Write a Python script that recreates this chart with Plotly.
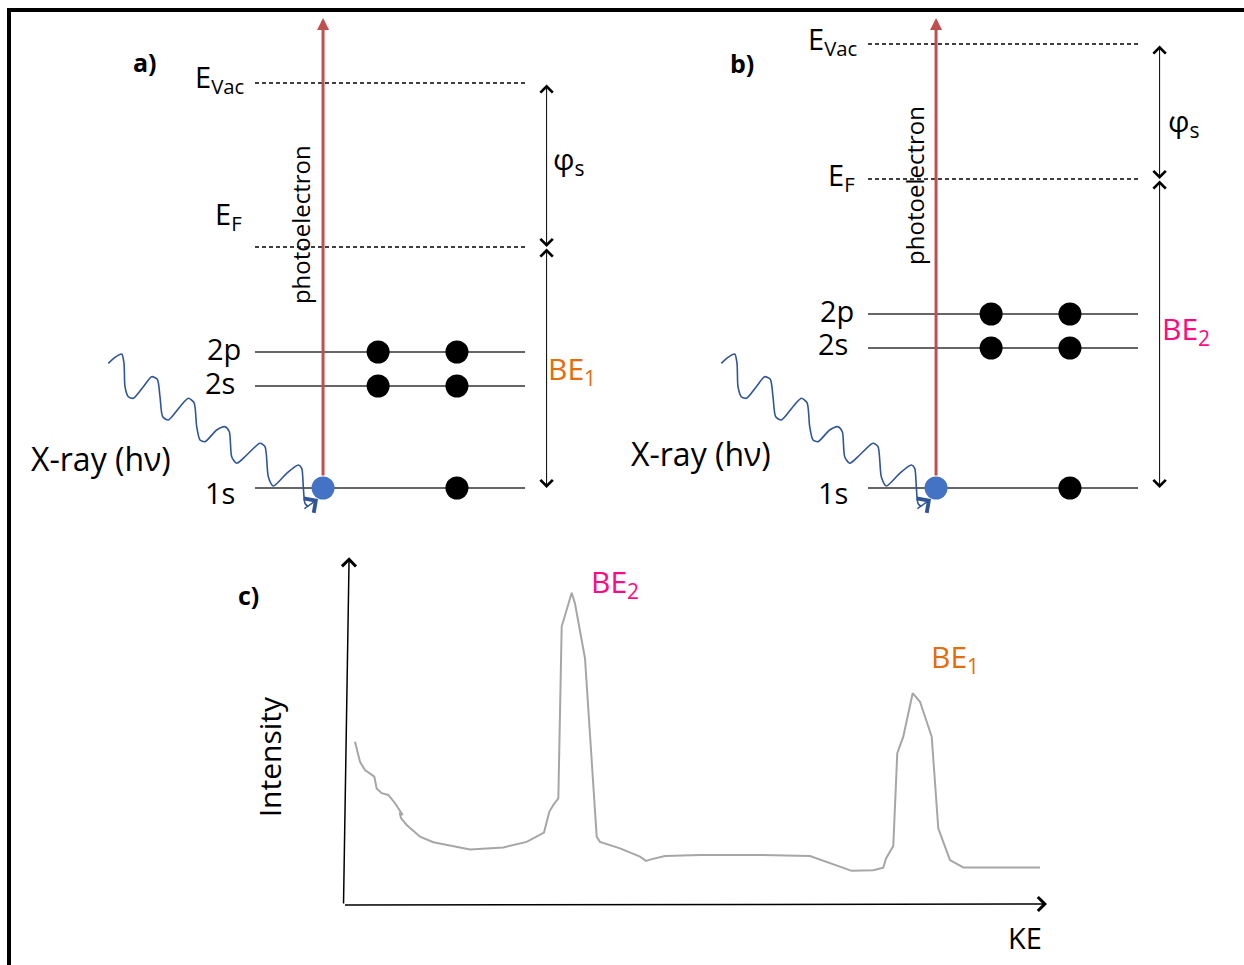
import plotly.graph_objects as go

# ---------------- data ----------------
# Panels a) and b): energy levels (arbitrary energy units, 1s = 0)
LEVEL_NAMES = ["1s", "2s", "2p"]
LEVEL_E_A = [0.0, 10.2, 13.6]
LEVEL_E_B = [0.0, 14.0, 17.4]
FERMI_A, VAC_A = 24.1, 40.5
FERMI_B, VAC_B = 30.9, 44.4
ELECTRON_SLOTS = [0.456, 0.748]          # occupied slots along a level
ELECTRONS_PER_LEVEL = [1, 2, 2]           # black electrons left (1s lost one)
EJECTED_SLOT = 0.252
PHOTO_TOP = 47.0

# X-ray squiggle (traced), in panel units
WAVE_X = [-0.5433, -0.5185, -0.4937, -0.4852, -0.4815, -0.4693, -0.4507, -0.4137,
          -0.3826, -0.3619, -0.3519, -0.3419, -0.3211, -0.2778, -0.2470, -0.2259,
          -0.2159, -0.2037, -0.1852, -0.1419, -0.1111, -0.0952, -0.0863, -0.0678,
          -0.0307, 0.0185, 0.0370, 0.0493, 0.0678, 0.1174, 0.1604, 0.1730,
          0.1789, 0.1852, 0.1974]
WAVE_Y = [12.47, 13.07, 13.40, 12.47, 10.13, 9.13, 8.97, 10.13,
          11.13, 10.87, 9.13, 7.13, 6.80, 8.13, 8.97, 8.53,
          6.13, 4.80, 4.63, 5.80, 6.13, 5.63, 3.13, 2.47,
          3.30, 4.47, 4.13, 1.13, 0.20, 1.47, 2.30, 1.97,
          0.13, -1.53, -1.87]
WAVE_TIP = (0.2335, -1.1)

# Panel c): spectrum
KE = [1.64, 2.36, 3.07, 4.40, 4.74, 5.46, 6.40, 7.36, 8.46, 8.03, 8.21, 9.03,
      10.93, 12.83, 18.07, 22.83, 26.17, 28.64, 29.40, 29.97, 30.69, 31.17,
      32.60, 33.07, 34.50, 36.17, 36.64, 39.50, 42.36, 43.21, 44.03, 45.93,
      50.93, 59.50, 66.64, 70.93, 72.60, 75.69, 77.11, 77.50, 78.54, 79.11,
      79.97, 81.31, 82.36, 84.03, 84.97, 85.93, 86.64, 88.54, 99.5]
INTENSITY = [47.3, 41.5, 39.1, 37.2, 33.8, 32.4, 31.9, 29.5, 26.1, 26.8, 25.2, 23.2,
             19.8, 18.2, 16.1, 16.7, 18.3, 21.0, 27.0, 29.0, 30.9, 80.7,
             90.5, 87.4, 71.5, 19.8, 18.3, 16.4, 14.0, 12.8, 13.3, 14.2,
             14.5, 14.5, 14.2, 11.1, 9.9, 10.1, 10.8, 13.5, 17.1, 44.0,
             48.8, 61.4, 58.9, 48.8, 22.2, 16.9, 13.0, 10.9, 10.9]
PEAK_LABELS = ["BE<sub>2</sub>", "BE<sub>1</sub>"]
PEAK_LABEL_POS = [(35.0, 93.3), (83.7, 71.6)]

# ---------------- styles ----------------
FONT = "Open Sans"
RED = "#C0504D"
BLUE_DOT = "#4472C4"
WAVE_BLUE = "#2F5597"
ORANGE = "#E46C0A"
PINK = "#FF0A80"
GRAY = "#A6A6A6"
LINE = "#333333"

fig = go.Figure()
ann = []


def panel(xa, levels, ef, evac, be_text, be_color, lab_pos):
    # level lines
    lx, ly = [], []
    for e in levels:
        lx += [0, 1, None]
        ly += [e, e, None]
    fig.add_trace(go.Scatter(x=lx, y=ly, mode="lines", xaxis=xa, yaxis="y",
                             line=dict(color=LINE, width=1.5), hoverinfo="skip"))
    # dashed EF / Evac
    fig.add_trace(go.Scatter(x=[0, 1, None, 0, 1], y=[ef, ef, None, evac, evac],
                             mode="lines", xaxis=xa, yaxis="y",
                             line=dict(color="black", width=1.4, dash="4px,3px"),
                             hoverinfo="skip"))
    # wave
    fig.add_trace(go.Scatter(x=WAVE_X, y=WAVE_Y, mode="lines", xaxis=xa, yaxis="y",
                             line=dict(color=WAVE_BLUE, width=1.6, shape="spline",
                                       smoothing=0.7), hoverinfo="skip"))
    # electrons
    ex, ey = [], []
    for e, n in zip(levels, ELECTRONS_PER_LEVEL):
        for s in ELECTRON_SLOTS[-n:]:
            ex.append(s)
            ey.append(e)
    fig.add_trace(go.Scatter(x=ex, y=ey, mode="markers", xaxis=xa, yaxis="y",
                             marker=dict(color="black", size=23), hoverinfo="skip"))
    fig.add_trace(go.Scatter(x=[EJECTED_SLOT], y=[levels[0]], mode="markers",
                             xaxis=xa, yaxis="y",
                             marker=dict(color=BLUE_DOT, size=23), hoverinfo="skip"))
    # arrows
    ann.append(dict(xref=xa, yref="y", axref=xa, ayref="y", x=EJECTED_SLOT, y=PHOTO_TOP,
                    ax=EJECTED_SLOT, ay=levels[0] + 1.1, text="", showarrow=True,
                    arrowhead=2, arrowsize=0.8, arrowwidth=3, arrowcolor=RED, standoff=0))
    ann.append(dict(xref=xa, yref="y", axref=xa, ayref="y", x=WAVE_TIP[0], y=WAVE_TIP[1],
                    ax=WAVE_X[-1] - 0.02, ay=WAVE_Y[-1] - 0.3, text="", showarrow=True,
                    arrowhead=4, arrowsize=2.6, arrowwidth=1.3, arrowcolor=WAVE_BLUE,
                    standoff=0))
    for top, bot in [(evac, ef), (ef, levels[0])]:
        ann.append(dict(xref=xa, yref="y", axref=xa, ayref="y", x=1.08, y=bot,
                        ax=1.08, ay=top, text="", showarrow=True, arrowside="end+start",
                        arrowhead=4, startarrowhead=4, arrowsize=2.4, startarrowsize=2.4,
                        arrowwidth=1, arrowcolor="black", standoff=0, startstandoff=0))

    # texts
    def txt(s, x, y, size=29, xanchor="center", color="black", angle=0, bold=False):
        ann.append(dict(xref=xa, yref="y", x=x, y=y, text=("<b>%s</b>" % s) if bold else s,
                        showarrow=False, xanchor=xanchor, yanchor="middle", textangle=angle,
                        font=dict(family=FONT, size=size, color=color)))
    p = lab_pos
    txt("E<sub>Vac</sub>", -0.035, p["vac"], xanchor="right")
    txt("E<sub>F</sub>", -0.04, p["ef"], xanchor="right")
    txt("2p", -0.045, p["2p"], xanchor="right")
    txt("2s", -0.065, p["2s"], xanchor="right")
    txt("1s", -0.065, -0.4, xanchor="right")
    txt("X-ray (hν)", p["xray"][0], p["xray"][1], size=32, xanchor="left")
    txt("photoelectron", p["pe"][0], p["pe"][1], size=24, angle=-90)
    txt("φ<sub>s</sub>", p["phi"][0], p["phi"][1], size=30, xanchor="left")
    txt(be_text, p["be"][0], p["be"][1], size=30, xanchor="left", color=be_color)
    txt(p["name"], p["lbl"][0], p["lbl"][1], size=25, bold=True)


panel("x", LEVEL_E_A, FERMI_A, VAC_A, "BE<sub>1</sub>", ORANGE,
      dict(vac=41.0, ef=27.3, **{"2p": 14.0, "2s": 10.6}, xray=(-0.836, 3.0),
           pe=(0.167, 26.3), phi=(1.097, 32.8), be=(1.078, 11.8), name="a)",
           lbl=(-0.407, 42.6)))
panel("x2", LEVEL_E_B, FERMI_B, VAC_B, "BE<sub>2</sub>", PINK,
      dict(vac=44.8, ef=31.2, **{"2p": 17.8, "2s": 14.5}, xray=(-0.885, 3.5),
           pe=(0.170, 30.3), phi=(1.104, 36.6), be=(1.082, 15.8), name="b)",
           lbl=(-0.467, 42.5)))

# ---------------- panel c ----------------
fig.add_trace(go.Scatter(x=KE, y=INTENSITY, mode="lines", xaxis="x3", yaxis="y3",
                         line=dict(color=GRAY, width=2), hoverinfo="skip"))
ann.append(dict(xref="x3", yref="y3", axref="x3", ayref="y3", x=0.8, y=100.8, ax=0, ay=0,
                text="", showarrow=True, arrowhead=4, arrowsize=1.8, arrowwidth=1.5,
                arrowcolor="black", standoff=0))
ann.append(dict(xref="x3", yref="y3", axref="x3", ayref="y3", x=100.5, y=0.3, ax=0, ay=0,
                text="", showarrow=True, arrowhead=4, arrowsize=1.8, arrowwidth=1.5,
                arrowcolor="black", standoff=0))
for s, (x, y), c in zip(PEAK_LABELS, PEAK_LABEL_POS, [PINK, ORANGE]):
    ann.append(dict(xref="x3", yref="y3", x=x, y=y, text=s, showarrow=False,
                    xanchor="left", yanchor="middle", font=dict(family=FONT, size=30, color=c)))
ann.append(dict(xref="x3", yref="y3", x=-13.6, y=89.9, text="<b>c)</b>", showarrow=False,
                font=dict(family=FONT, size=25, color="black")))
ann.append(dict(xref="x3", yref="y3", x=-10.6, y=42.9, text="Intensity", showarrow=False,
                textangle=-90, font=dict(family=FONT, size=30, color="black")))
ann.append(dict(xref="x3", yref="y3", x=97.4, y=-9.3, text="KE", showarrow=False,
                font=dict(family=FONT, size=29, color="black")))

W, H = 1244, 965
ax_common = dict(visible=False, showgrid=False, zeroline=False, fixedrange=True)
fig.update_layout(
    width=W, height=H, margin=dict(l=0, r=0, t=0, b=0),
    paper_bgcolor="white", plot_bgcolor="rgba(0,0,0,0)", showlegend=False,
    xaxis=dict(domain=[0, 1], range=[-255 / 270, (W - 255) / 270], anchor="y", **ax_common),
    xaxis2=dict(domain=[0, 1], range=[-868 / 270, (W - 868) / 270], overlaying="x",
                anchor="y", **ax_common),
    xaxis3=dict(domain=[0, 1], range=[-343.5 / 7, (W - 343.5) / 7], overlaying="x",
                anchor="y3", **ax_common),
    yaxis=dict(domain=[0, 1], range=[(488 - H) / 10, 48.8], anchor="x", **ax_common),
    yaxis3=dict(domain=[0, 1], range=[(905 - H) / 3.45, 905 / 3.45], overlaying="y",
                anchor="x3", **ax_common),
    annotations=ann,
    shapes=[
        dict(type="line", xref="paper", yref="paper", x0=7 / W, x1=1, y0=1 - 10 / H,
             y1=1 - 10 / H, line=dict(color="black", width=4)),
        dict(type="line", xref="paper", yref="paper", x0=9 / W, x1=9 / W, y0=0,
             y1=1 - 8 / H, line=dict(color="black", width=4)),
    ],
)

fig.write_html("out.html", config={"displayModeBar": False, "staticPlot": True},
               post_script="document.body.style.margin='0';")
